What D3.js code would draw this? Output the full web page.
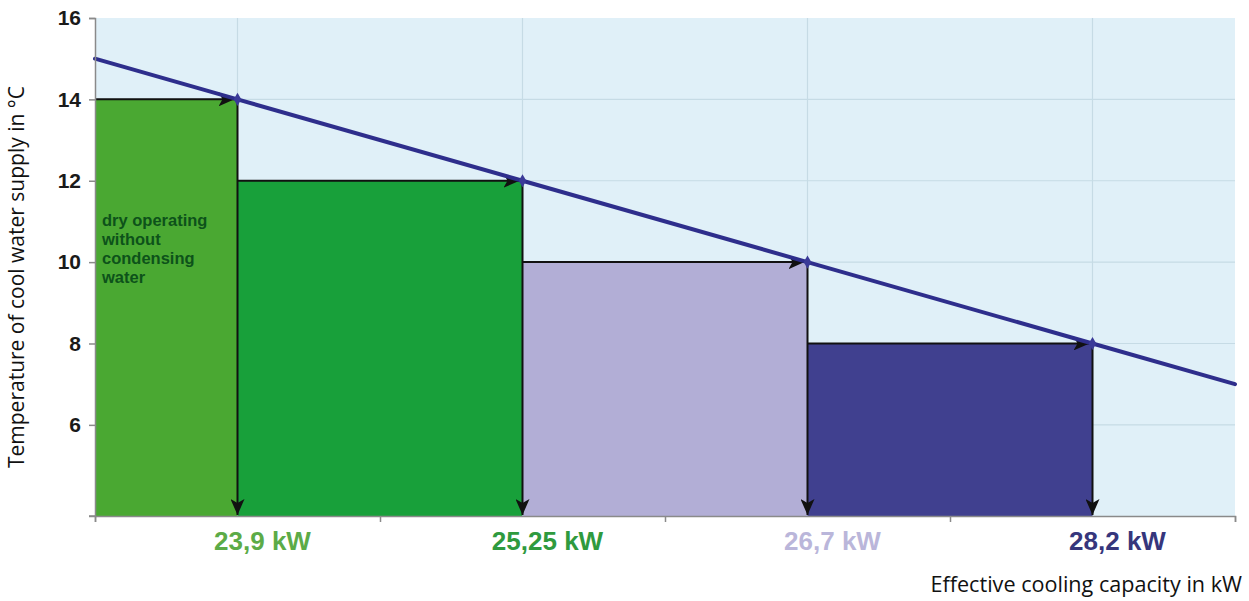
<!DOCTYPE html>
<html>
<head>
<meta charset="utf-8">
<script src="https://cdn.jsdelivr.net/npm/d3@7"></script>
<style>
  html, body { margin: 0; padding: 0; background: #ffffff; }
  svg { display: block; }
</style>
</head>
<body>
<svg id="chart" width="1249" height="601"></svg>
<script>
// Cooling capacity steps (kW labels) and the supply temperature at each step
const capacityLabels = ["23,9 kW", "25,25 kW", "26,7 kW", "28,2 kW"];
const supplyTemps = [14, 12, 10, 8];
const barColors = ["#4aa832", "#18a03a", "#b2aed6", "#40408f"];
const labelColors = ["#5cab47", "#2f9a3e", "#bab6da", "#36367c"];
// Characteristic line ends (at the outer edges of the plot)
const lineStartTemp = 15;
const lineEndTemp = 7;
const yTicks = [6, 8, 10, 12, 14, 16];
const noteLines = ["dry operating", "without", "condensing", "water"];

const svg = d3.select("#chart");
const plotLeft = 95, plotRight = 1235, plotTop = 18, plotBottom = 516;

const x = d3.scaleLinear().domain([-0.5, capacityLabels.length - 0.5]).range([plotLeft, plotRight]);
const y = d3.scaleLinear().domain([3.76, 16]).range([plotBottom, plotTop]);

// Plot background
svg.append("rect")
  .attr("x", plotLeft).attr("y", plotTop)
  .attr("width", plotRight - plotLeft).attr("height", plotBottom - plotTop)
  .attr("fill", "#e0f0f8");

// Grid lines
svg.append("g").selectAll("line").data(yTicks.filter(t => t < 16)).join("line")
  .attr("x1", plotLeft).attr("x2", plotRight)
  .attr("y1", d => y(d)).attr("y2", d => y(d))
  .attr("stroke", "#c6dbe5").attr("stroke-width", 1.2);
svg.append("g").selectAll("line").data(d3.range(capacityLabels.length)).join("line")
  .attr("x1", d => x(d)).attr("x2", d => x(d))
  .attr("y1", plotTop).attr("y2", plotBottom)
  .attr("stroke", "#c6dbe5").attr("stroke-width", 1.2);

// Step bars: each bar spans from the previous step to the current one
svg.append("g").selectAll("rect").data(supplyTemps).join("rect")
  .attr("x", (d, i) => i === 0 ? plotLeft : x(i - 1))
  .attr("y", d => y(d))
  .attr("width", (d, i) => x(i) - (i === 0 ? plotLeft : x(i - 1)))
  .attr("height", d => plotBottom - y(d))
  .attr("fill", (d, i) => barColors[i]);

// Arrow markers
const defs = svg.append("defs");
defs.append("marker")
  .attr("id", "arrow")
  .attr("viewBox", "0 0 16 14")
  .attr("refX", 16).attr("refY", 7)
  .attr("markerWidth", 16).attr("markerHeight", 14)
  .attr("markerUnits", "userSpaceOnUse")
  .attr("orient", "auto")
  .append("path")
  .attr("d", "M0,0 L16,7 L0,14 L4,7 Z")
  .attr("fill", "#111");

// Horizontal arrows along the bar tops, ending at the characteristic line
svg.append("g").selectAll("line").data(supplyTemps).join("line")
  .attr("x1", (d, i) => i === 0 ? plotLeft : x(i - 1))
  .attr("x2", (d, i) => x(i) - 3)
  .attr("y1", d => y(d)).attr("y2", d => y(d))
  .attr("stroke", "#111").attr("stroke-width", 2)
  .attr("marker-end", "url(#arrow)");

// Vertical arrows down to the capacity axis
svg.append("g").selectAll("line").data(supplyTemps).join("line")
  .attr("x1", (d, i) => x(i)).attr("x2", (d, i) => x(i))
  .attr("y1", d => y(d)).attr("y2", plotBottom - 1)
  .attr("stroke", "#111").attr("stroke-width", 2)
  .attr("marker-end", "url(#arrow)");

// Characteristic line
const linePts = [[-0.5, lineStartTemp]]
  .concat(supplyTemps.map((t, i) => [i, t]))
  .concat([[capacityLabels.length - 0.5, lineEndTemp]]);
svg.append("path")
  .datum(linePts)
  .attr("d", d3.line().x(d => x(d[0])).y(d => y(d[1])))
  .attr("fill", "none")
  .attr("stroke", "#2e2e8c")
  .attr("stroke-width", 4)
  .attr("stroke-linecap", "round");

// Point markers on the line
svg.append("g").selectAll("path").data(supplyTemps).join("path")
  .attr("transform", (d, i) => `translate(${x(i)},${y(d)})`)
  .attr("d", d3.symbol(d3.symbolDiamond, 50))
  .attr("fill", "#3a3a98");

// Y axis
const yAxis = d3.axisLeft(y).tickValues(yTicks).tickSize(6).tickPadding(8).tickFormat(d3.format("d"));
const yG = svg.append("g").attr("transform", `translate(${plotLeft},0)`).call(yAxis);
yG.select(".domain").attr("stroke", "#8a8a8a").attr("stroke-width", 1.5);
yG.selectAll(".tick line").attr("stroke", "#8a8a8a").attr("stroke-width", 1.5);
yG.selectAll(".tick text")
  .attr("font-family", "Liberation Sans, Arial, sans-serif")
  .attr("font-weight", "bold").attr("font-size", 21).attr("fill", "#1a1a1a");
// bottom tick without label
svg.append("line").attr("x1", plotLeft - 6).attr("x2", plotLeft).attr("y1", plotBottom).attr("y2", plotBottom)
  .attr("stroke", "#8a8a8a").attr("stroke-width", 1.5);

// X axis
const xAxis = d3.axisBottom(x).tickValues(d3.range(-0.5, capacityLabels.length, 1)).tickSize(6).tickFormat("");
const xG = svg.append("g").attr("transform", `translate(0,${plotBottom})`).call(xAxis);
xG.select(".domain").attr("stroke", "#8a8a8a").attr("stroke-width", 1.5);
xG.selectAll(".tick line").attr("stroke", "#8a8a8a").attr("stroke-width", 1.5);

// Capacity labels
svg.append("g").selectAll("text").data(capacityLabels).join("text")
  .attr("x", (d, i) => x(i) + 25)
  .attr("y", 550)
  .attr("text-anchor", "middle")
  .attr("font-family", "Liberation Sans, Arial, sans-serif")
  .attr("font-weight", "bold").attr("font-size", 26)
  .attr("fill", (d, i) => labelColors[i])
  .text(d => d);

// Note inside the first bar
svg.append("g").selectAll("text").data(noteLines).join("text")
  .attr("x", 102)
  .attr("y", (d, i) => 226 + i * 19)
  .attr("font-family", "Liberation Sans, Arial, sans-serif")
  .attr("font-weight", "bold").attr("font-size", 16.5)
  .attr("fill", "#0d521a")
  .text(d => d);

// Axis titles
svg.append("text")
  .attr("transform", "translate(24,277) rotate(-90)")
  .attr("text-anchor", "middle")
  .attr("font-family", "Open Sans, sans-serif")
  .attr("font-size", 21).attr("fill", "#111")
  .text("Temperature of cool water supply in °C");
svg.append("text")
  .attr("x", 1242).attr("y", 592)
  .attr("text-anchor", "end")
  .attr("font-family", "Open Sans, sans-serif")
  .attr("font-size", 21.6).attr("fill", "#111")
  .text("Effective cooling capacity in kW");
</script>
</body>
</html>
